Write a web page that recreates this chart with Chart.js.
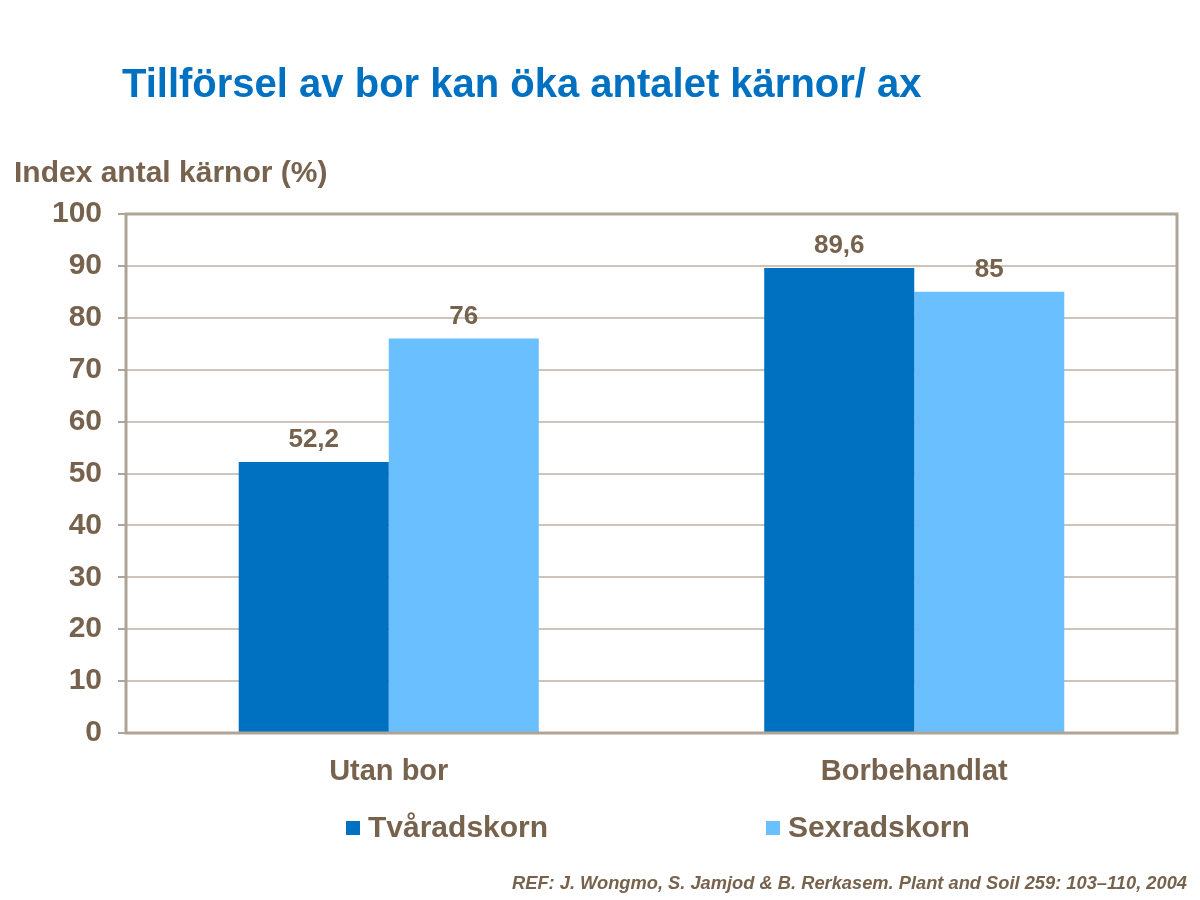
<!DOCTYPE html>
<html>
<head>
<meta charset="utf-8">
<script src="https://cdn.jsdelivr.net/npm/chart.js@4.4.1/dist/chart.umd.min.js"></script>
<style>
  html, body { margin: 0; padding: 0; background: #fff; }
  #wrap { width: 1200px; height: 900px; }
</style>
</head>
<body>
<div id="wrap"><canvas id="chart" width="1200" height="900"></canvas></div>
<script>
/* global Chart */
const categories = ['Utan bor', 'Borbehandlat'];
const seriesNames = ['Tvåradskorn', 'Sexradskorn'];
const tvaradskorn = [52.2, 89.6];
const sexradskorn = [76, 85];
const valueLabels = [['52,2', '89,6'], ['76', '85']];
const yTicks = [0, 10, 20, 30, 40, 50, 60, 70, 80, 90, 100];

const BROWN = '#77634d';
const DARK = '#0070c0';
const LIGHT = '#69bfff';
const FONT = '"Liberation Sans", Arial, sans-serif';

const chartAreaBorder = {
  id: 'chartAreaBorder',
  afterDraw(chart) {
    const { ctx, chartArea: { left, top, right, bottom } } = chart;
    ctx.save();
    ctx.strokeStyle = '#b0a497';
    ctx.lineWidth = 3;
    ctx.strokeRect(left, top, right - left, bottom - top);
    ctx.restore();
  },
};

const valueLabelPlugin = {
  id: 'valueLabels',
  afterDatasetsDraw(chart) {
    const { ctx } = chart;
    ctx.save();
    ctx.fillStyle = BROWN;
    ctx.font = 'bold 26px ' + FONT;
    ctx.textAlign = 'center';
    ctx.textBaseline = 'bottom';
    chart.data.datasets.forEach((ds, di) => {
      chart.getDatasetMeta(di).data.forEach((bar, i) => {
        ctx.fillText(valueLabels[di][i], bar.x, bar.y - 9);
      });
    });
    ctx.restore();
  },
};

const textPlugin = {
  id: 'slideText',
  afterDraw(chart) {
    const { ctx } = chart;
    ctx.save();
    ctx.textBaseline = 'middle';
    ctx.textAlign = 'left';
    ctx.fillStyle = DARK;
    ctx.font = 'bold 40px ' + FONT;
    ctx.fillText('Tillförsel av bor kan öka antalet kärnor/ ax', 122, 86);

    ctx.fillStyle = BROWN;
    ctx.font = 'bold 30px ' + FONT;
    ctx.fillText('Index antal kärnor (%)', 14, 174);

    // legend
    const colors = [DARK, LIGHT];
    const xs = [346, 766];
    ctx.font = 'bold 30px ' + FONT;
    seriesNames.forEach((name, i) => {
      ctx.fillStyle = colors[i];
      ctx.fillRect(xs[i], 821, 14, 14);
      ctx.fillStyle = BROWN;
      ctx.fillText(name, xs[i] + 22, 829);
    });

    ctx.textAlign = 'right';
    ctx.font = 'italic bold 18.3px ' + FONT;
    ctx.fillText('REF: J. Wongmo, S. Jamjod & B. Rerkasem. Plant and Soil 259: 103–110, 2004', 1187, 884);
    ctx.restore();
  },
};

new Chart(document.getElementById('chart'), {
  type: 'bar',
  data: {
    labels: categories,
    datasets: [
      { label: seriesNames[0], data: tvaradskorn, backgroundColor: DARK },
      { label: seriesNames[1], data: sexradskorn, backgroundColor: LIGHT },
    ],
  },
  options: {
    responsive: false,
    animation: false,
    devicePixelRatio: 1,
    layout: { padding: { left: 0, top: 214, right: 23, bottom: 107 } },
    datasets: { bar: { categoryPercentage: 0.571, barPercentage: 1 } },
    scales: {
      x: {
        grid: { display: false },
        border: { display: false },
        ticks: { color: BROWN, font: { family: FONT, size: 29, weight: 'bold' }, padding: 14 },
        afterFit(scale) { scale.height = 60; },
      },
      y: {
        min: 0,
        max: 100,
        afterBuildTicks(scale) { scale.ticks = yTicks.map((v) => ({ value: v })); },
        grid: { color: '#cdc3b9', lineWidth: 2, tickLength: 8, tickColor: '#b0a497' },
        border: { display: false },
        ticks: { color: BROWN, font: { family: FONT, size: 30, weight: 'bold' }, padding: 16 },
        afterFit(scale) { scale.width = 126; },
      },
    },
    plugins: {
      legend: { display: false },
      tooltip: { enabled: false },
    },
  },
  plugins: [chartAreaBorder, valueLabelPlugin, textPlugin],
});
</script>
</body>
</html>
